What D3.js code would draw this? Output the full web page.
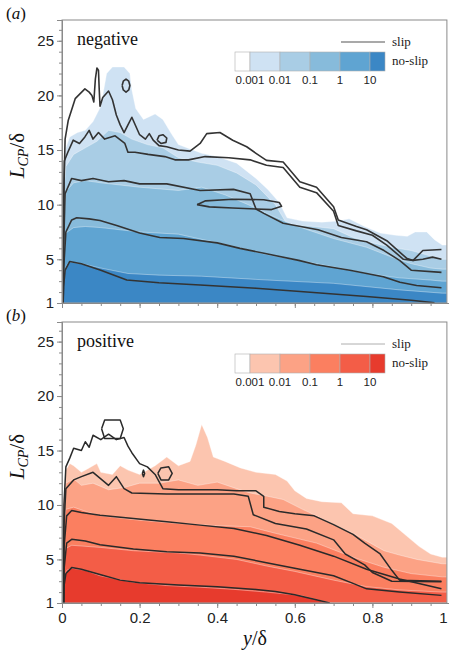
<!DOCTYPE html>
<html>
<head>
<meta charset="utf-8">
<script src="https://cdnjs.cloudflare.com/ajax/libs/d3/7.8.5/d3.min.js"></script>
<style>
  body { margin: 0; background: #fff; }
  svg text { font-family: "Liberation Sans", Arial, sans-serif; }
</style>
</head>
<body>
<svg id="chart" width="449" height="653"></svg>
<script>
// contour levels of the colour bar
var levels = ['0.001', '0.01', '0.1', '1', '10'];
var blues = ['#ffffff', '#cfe2f3', '#a9cde5', '#87bbdb', '#5fa4d2', '#3b87c5'];
var reds = ['#ffffff', '#fcc5af', '#fca285', '#fb7f60', '#f35d47', '#e73b2d'];
var x_ticks = [0, 0.2, 0.4, 0.6, 0.8, 1];
var y_ticks = [1, 5, 10, 15, 20, 25];

// negative, no-slip: upper edge [y/δ, L] of each filled level
var neg_fill_0001 = [[0,3],[0.004,13],[0.01,15.2],[0.02,16.2],[0.04,16.6],[0.06,16.8],[0.08,17.6],[0.1,19.0],[0.115,22.0],[0.13,22.6],[0.16,22.6],[0.175,22.0],[0.18,20.5],[0.19,18.8],[0.21,17.8],[0.24,18.3],[0.26,17.8],[0.28,16.6],[0.3,15.5],[0.33,15.1],[0.36,14.7],[0.4,14.4],[0.45,13.8],[0.5,12.4],[0.53,11.4],[0.56,10.2],[0.58,8.8],[0.62,8.5],[0.67,8.4],[0.71,8.5],[0.74,8.7],[0.78,8.0],[0.82,7.4],[0.86,7.2],[0.89,7.1],[0.91,7.5],[0.94,7.5],[0.96,6.8],[0.98,6.3]];
var neg_fill_001 = [[0,3],[0.004,11],[0.01,13.5],[0.03,14.6],[0.06,15.2],[0.09,15.8],[0.12,16.8],[0.15,16.6],[0.18,16.0],[0.22,15.5],[0.26,15.2],[0.3,14.3],[0.35,13.9],[0.4,13.6],[0.45,12.9],[0.5,11.8],[0.55,10.0],[0.58,8.2],[0.65,8.0],[0.7,7.8],[0.75,7.0],[0.8,6.5],[0.85,6.1],[0.9,5.8],[0.95,5.3],[0.98,5.0]];
var neg_fill_01 = [[0,3],[0.004,8],[0.01,11.2],[0.03,12.0],[0.06,12.2],[0.1,12.0],[0.15,11.8],[0.2,11.6],[0.3,11.3],[0.36,11.6],[0.42,10.9],[0.48,10.0],[0.54,9.0],[0.6,8.1],[0.65,7.5],[0.7,6.9],[0.785,6.1],[0.85,5.2],[0.9,4.6],[0.95,4.2],[0.98,4.1]];
var neg_fill_1 = [[0,2.5],[0.004,5.5],[0.01,7.4],[0.03,7.9],[0.06,8.0],[0.1,7.9],[0.15,7.7],[0.2,7.5],[0.3,7.3],[0.44,6.2],[0.52,5.5],[0.61,4.9],[0.7,4.3],[0.785,3.7],[0.87,3.3],[0.95,3.1],[0.98,3.0]];
var neg_fill_10 = [[0,1.8],[0.005,3.5],[0.012,4.5],[0.021,4.75],[0.05,4.6],[0.1,4.2],[0.17,3.7],[0.25,3.55],[0.36,3.45],[0.53,3.1],[0.7,2.8],[0.87,2.2],[0.98,1.9]];

// negative, slip: contour lines
var neg_slip_0001 = [[0.003,1],[0.004,10],[0.008,16],[0.016,17.7],[0.034,19.7],[0.059,20.6],[0.07,20.3],[0.077,20.0],[0.082,19.4],[0.086,21.5],[0.09,22.5],[0.094,22.3],[0.096,20.5],[0.098,19.0],[0.105,19.8],[0.12,20.4],[0.13,19.6],[0.14,18.2],[0.15,17.3],[0.16,16.6],[0.17,17.3],[0.18,18.0],[0.19,17.2],[0.2,16.4],[0.215,16.0],[0.225,16.5],[0.235,15.9],[0.25,15.4],[0.27,15.3],[0.3,15.0],[0.33,14.9],[0.356,15.6],[0.373,16.5],[0.407,16.6],[0.44,15.9],[0.476,15.3],[0.5,14.7],[0.527,14.05],[0.57,13.9],[0.613,12.1],[0.656,11.6],[0.7,9.8],[0.712,8.6],[0.759,8.0],[0.785,7.7],[0.837,6.7],[0.888,5.1],[0.905,4.9],[0.93,5.8],[0.978,5.9]];
var neg_slip_001 = [[0.003,1],[0.004,8],[0.006,14],[0.015,14.8],[0.029,15.9],[0.045,15.6],[0.059,16.2],[0.07,16.8],[0.08,16.0],[0.094,16.6],[0.11,16.0],[0.137,16.3],[0.162,15.6],[0.17,14.8],[0.188,14.8],[0.222,14.6],[0.265,14.4],[0.291,14.1],[0.326,14.1],[0.369,14.4],[0.43,14.3],[0.485,14.1],[0.527,13.6],[0.57,13.4],[0.613,11.6],[0.656,11.1],[0.7,9.4],[0.712,8.1],[0.759,7.6],[0.8,7.2],[0.837,6.3],[0.88,5.0],[0.905,4.9],[0.93,5.0],[0.955,5.2],[0.978,5.0]];
var neg_slip_01 = [[0.003,1],[0.004,6],[0.008,11],[0.025,12.4],[0.05,12.2],[0.08,12.4],[0.12,12.1],[0.16,12.2],[0.2,11.9],[0.27,11.9],[0.356,11.3],[0.442,11.4],[0.485,11.0],[0.5,9.6],[0.52,9.2],[0.57,8.3],[0.66,7.7],[0.72,7.0],[0.785,6.6],[0.83,5.8],[0.87,4.9],[0.9,4.0],[0.978,3.8]];
var neg_slip_1 = [[0.003,1],[0.004,4],[0.01,7.5],[0.025,8.6],[0.038,8.8],[0.07,8.7],[0.098,8.55],[0.141,8.1],[0.2,7.4],[0.252,7.0],[0.313,6.9],[0.4,6.5],[0.459,6.0],[0.527,5.5],[0.61,4.9],[0.656,4.5],[0.742,4.0],[0.828,3.4],[0.871,2.9],[0.914,2.6],[0.978,2.4]];
var neg_slip_10 = [[0.003,1],[0.004,2.5],[0.008,4.0],[0.02,4.8],[0.05,4.6],[0.1,4.0],[0.167,3.1],[0.25,2.85],[0.356,2.65],[0.5,2.35],[0.614,2.05],[0.785,1.6],[0.9,1.25],[0.96,1.02]];
var neg_slip_loops = [
    [[0.155,20.9],[0.158,21.3],[0.165,21.5],[0.172,21.3],[0.175,20.9],[0.172,20.5],[0.165,20.3],[0.158,20.5],[0.155,20.9]],
    [[0.245,15.9],[0.25,16.3],[0.26,16.4],[0.27,16.1],[0.268,15.7],[0.255,15.6],[0.245,15.9]],
    [[0.348,10.0],[0.37,10.35],[0.44,10.5],[0.52,10.45],[0.56,10.2],[0.566,9.85],[0.54,9.55],[0.5,9.6],[0.44,9.7],[0.38,9.8],[0.348,10.0]]
];

// positive, no-slip
var pos_fill_0001 = [[0,3],[0.003,10],[0.01,13.2],[0.02,13.8],[0.03,13.6],[0.05,13.0],[0.07,13.4],[0.09,13.8],[0.1,13.0],[0.13,12.8],[0.15,13.6],[0.17,13.2],[0.2,12.8],[0.24,13.6],[0.27,14.4],[0.3,13.6],[0.33,14.0],[0.345,15.5],[0.36,17.4],[0.375,16.2],[0.39,14.4],[0.42,14.0],[0.46,13.4],[0.5,13.0],[0.55,12.8],[0.58,12.2],[0.6,11.3],[0.63,10.6],[0.67,10.3],[0.72,10.2],[0.75,9.2],[0.8,9.0],[0.85,8.3],[0.88,7.4],[0.92,6.2],[0.95,5.5],[0.98,5.2]];
var pos_fill_001 = [[0,3],[0.004,9],[0.01,12.0],[0.03,12.4],[0.05,11.8],[0.08,12.0],[0.12,11.4],[0.16,11.6],[0.2,12.0],[0.25,12.0],[0.3,12.3],[0.35,11.8],[0.4,12.1],[0.45,11.5],[0.485,11.1],[0.53,10.8],[0.57,10.5],[0.62,9.6],[0.656,9.0],[0.7,8.2],[0.75,7.4],[0.785,6.7],[0.83,5.8],[0.87,5.4],[0.915,5.0],[0.98,4.6]];
var pos_fill_01 = [[0,3],[0.004,8],[0.01,9.6],[0.03,9.8],[0.07,9.3],[0.1,9.0],[0.2,8.6],[0.3,8.3],[0.4,8.1],[0.485,8.0],[0.55,7.4],[0.656,6.5],[0.75,5.2],[0.828,4.3],[0.9,3.7],[0.98,3.4]];
var pos_fill_1 = [[0,2.5],[0.004,5],[0.01,6.0],[0.025,6.3],[0.1,6.1],[0.184,5.8],[0.3,5.6],[0.356,5.4],[0.45,5.0],[0.527,4.4],[0.6,3.9],[0.7,3.1],[0.785,2.5],[0.87,2.2],[0.98,2.0]];
var pos_fill_10 = [[0,1.8],[0.005,3.3],[0.012,4.0],[0.025,4.2],[0.06,4.0],[0.098,3.5],[0.184,2.9],[0.27,2.6],[0.356,2.45],[0.443,2.25],[0.527,2.0],[0.613,1.7],[0.68,1.1],[0.7,1.0],[0.98,1.0]];

// positive, slip
var pos_slip_0001 = [[0.004,1],[0.005,10],[0.01,13.5],[0.02,14.3],[0.03,15.2],[0.05,15.0],[0.06,15.8],[0.07,15.3],[0.08,16.4],[0.1,16.0],[0.12,16.5],[0.14,16.0],[0.16,16.2],[0.17,15.4],[0.18,14.8],[0.2,13.8],[0.22,13.5],[0.24,12.8],[0.26,11.5],[0.3,11.4],[0.36,11.4],[0.4,11.4],[0.45,11.3],[0.5,11.3],[0.52,10.8],[0.52,9.8],[0.56,9.4],[0.6,9.2],[0.65,9.0],[0.7,8.2],[0.75,7.3],[0.78,6.5],[0.82,5.5],[0.85,4.0],[0.87,3.1],[0.978,3.0]];
var pos_slip_001 = [[0.004,1],[0.005,8],[0.01,11.5],[0.03,12.3],[0.05,12.6],[0.08,13.0],[0.1,12.4],[0.12,11.8],[0.14,12.6],[0.16,11.5],[0.18,11.1],[0.27,11.0],[0.356,11.0],[0.443,11.0],[0.48,10.8],[0.493,9.1],[0.55,8.3],[0.63,7.8],[0.7,6.8],[0.73,5.5],[0.78,4.5],[0.8,3.8],[0.85,3.0],[0.978,2.95]];
var pos_slip_01 = [[0.004,1],[0.005,6],[0.012,9.0],[0.025,9.5],[0.05,9.3],[0.098,9.05],[0.184,8.75],[0.27,8.45],[0.356,8.15],[0.443,7.85],[0.527,7.2],[0.613,6.3],[0.7,5.3],[0.785,4.1],[0.87,3.2],[0.978,2.3]];
var pos_slip_1 = [[0.004,1],[0.005,4],[0.012,6.5],[0.025,6.85],[0.06,6.7],[0.098,6.35],[0.184,5.95],[0.27,5.7],[0.356,5.6],[0.443,5.3],[0.527,4.7],[0.613,4.1],[0.7,3.5],[0.75,2.8],[0.785,2.3],[0.87,2.0],[0.978,1.7]];
var pos_slip_10 = [[0.004,1],[0.005,2.5],[0.01,3.7],[0.025,4.25],[0.05,4.1],[0.1,3.6],[0.15,3.1],[0.2,2.85],[0.3,2.65],[0.4,2.5],[0.5,2.25],[0.55,2.05],[0.6,1.75],[0.65,1.35],[0.69,1.0]];
var pos_slip_loops = [
    [[0.102,17.0],[0.11,17.8],[0.15,17.8],[0.158,17.0],[0.15,16.1],[0.11,16.1],[0.102,17.0]],
    [[0.247,12.9],[0.255,13.4],[0.275,13.5],[0.284,12.9],[0.275,12.3],[0.255,12.3],[0.247,12.9]],
    [[0.207,12.9],[0.21,13.2],[0.213,12.9],[0.21,12.6],[0.207,12.9]]
];

var svg = d3.select('#chart');
var x_end = 0.992;   // right frame edge

var panels = [
    {name: 'negative', tag: 'a', top: 20, bottom: 303, ymax: 26.9, colors: blues,
     fills: [neg_fill_0001, neg_fill_001, neg_fill_01, neg_fill_1, neg_fill_10],
     slips: [neg_slip_0001, neg_slip_001, neg_slip_01, neg_slip_1, neg_slip_10],
     loops: neg_slip_loops, slip_w: 1.6, slip_c: '#333', legend_c: '#555', legend_w: 1.2},
    {name: 'positive', tag: 'b', top: 322, bottom: 603, ymax: 26.8, colors: reds,
     fills: [pos_fill_0001, pos_fill_001, pos_fill_01, pos_fill_1, pos_fill_10],
     slips: [pos_slip_0001, pos_slip_001, pos_slip_01, pos_slip_1, pos_slip_10],
     loops: pos_slip_loops, slip_w: 1.5, slip_c: '#2a2a2a', legend_c: '#999', legend_w: 0.8}
];

var x = d3.scaleLinear().domain([0, 1]).range([62, 450]);

panels.forEach(function(p, pi) {
    var y = d3.scaleLinear().domain([1, p.ymax]).range([p.bottom, p.top]);
    var g = svg.append('g');

    g.append('clipPath')
        .attr('id', 'clip' + pi)
        .append('rect')
        .attr('x', x(0))
        .attr('y', p.top)
        .attr('width', x(x_end) - x(0))
        .attr('height', p.bottom - p.top);

    var plot = g.append('g').attr('clip-path', 'url(#clip' + pi + ')');

    // filled levels, closed down to L = 1
    var area = d3.area()
        .x(function(d) { return x(d[0]); })
        .y0(y(1))
        .y1(function(d) { return y(d[1]); });

    plot.selectAll('.band')
        .data(p.fills)
        .enter()
        .append('path')
        .attr('class', 'band')
        .attr('d', function(d) {
            var pts = d.slice();
            var last = pts[pts.length - 1];
            if (last[0] < x_end) pts.push([x_end, last[1]]);
            return area(pts);
        })
        .attr('fill', function(d, i) { return p.colors[i + 1]; })
        .attr('stroke', '#ffffff')
        .attr('stroke-opacity', 0.45)
        .attr('stroke-width', 0.8);

    // slip contour lines
    var line = d3.line()
        .x(function(d) { return x(d[0]); })
        .y(function(d) { return y(d[1]); });

    plot.selectAll('.slip')
        .data(p.slips.concat(p.loops))
        .enter()
        .append('path')
        .attr('class', 'slip')
        .attr('d', line)
        .attr('fill', 'none')
        .attr('stroke', p.slip_c)
        .attr('stroke-width', p.slip_w)
        .attr('stroke-linejoin', 'round');

    // frame
    g.append('rect')
        .attr('x', x(0))
        .attr('y', p.top)
        .attr('width', x(x_end) - x(0))
        .attr('height', p.bottom - p.top)
        .attr('fill', 'none')
        .attr('stroke', '#8a8a8a')
        .attr('stroke-width', 1);

    // y axis, major + minor ticks
    g.append('g')
        .attr('transform', 'translate(' + x(0) + ',0)')
        .call(d3.axisLeft(y).tickValues(y_ticks).tickSize(5).tickPadding(3));
    g.append('g')
        .attr('transform', 'translate(' + x(0) + ',0)')
        .call(d3.axisLeft(y).tickValues(d3.range(1, 27)).tickSize(3).tickFormat(''));

    // x axis
    var x_axis = g.append('g')
        .attr('transform', 'translate(0,' + p.bottom + ')')
        .call(d3.axisBottom(x).tickValues(x_ticks).tickSize(5).tickPadding(4)
            .tickFormat(pi == 1 ? d3.format('') : ''));
    g.append('g')
        .attr('transform', 'translate(0,' + p.bottom + ')')
        .call(d3.axisBottom(x).tickValues(d3.range(0, 1.001, 0.05)).tickSize(3).tickFormat(''));

    g.selectAll('.domain').attr('stroke', '#8a8a8a');
    g.selectAll('.tick line').attr('stroke', '#8a8a8a');
    g.selectAll('.tick text')
        .attr('fill', '#222')
        .style('font-size', '15px');
    // last x label sits on the window edge
    x_axis.selectAll('.tick text')
        .filter(function(d) { return d == 1; })
        .attr('text-anchor', 'end')
        .attr('dx', -3);

    // panel tag (a) / (b)
    var tag = g.append('text')
        .attr('x', 6)
        .attr('y', p.top - 1)
        .style('font-family', '"Liberation Serif", serif')
        .style('font-size', '17px')
        .attr('fill', '#111');
    tag.append('tspan').text('(');
    tag.append('tspan').style('font-style', 'italic').text(p.tag);
    tag.append('tspan').text(')');

    // y label
    var ylab = g.append('text')
        .attr('transform', 'translate(24,' + ((p.top + p.bottom) / 2 - 6) + ') rotate(-90)')
        .attr('text-anchor', 'middle')
        .style('font-family', '"Liberation Serif", serif')
        .style('font-size', '21px')
        .attr('fill', '#111');
    ylab.append('tspan').style('font-style', 'italic').text('L');
    ylab.append('tspan').style('font-style', 'italic').style('font-size', '14px').attr('dy', 4).text('CP');
    ylab.append('tspan').attr('dy', -4).text('/δ');

    // sign name
    g.append('text')
        .attr('x', 77)
        .attr('y', p.top + 25)
        .style('font-family', '"Liberation Serif", serif')
        .style('font-size', '18px')
        .attr('fill', '#111')
        .text(p.name);

    // legend: slip line
    g.append('line')
        .attr('x1', 341).attr('x2', 385)
        .attr('y1', p.top + 22).attr('y2', p.top + 22)
        .attr('stroke', p.legend_c)
        .attr('stroke-width', p.legend_w);
    g.append('text')
        .attr('x', 392).attr('y', p.top + 26)
        .style('font-family', '"Liberation Serif", serif')
        .style('font-size', '13px')
        .attr('fill', '#222')
        .text('slip');
    g.append('text')
        .attr('x', 392).attr('y', p.top + 45)
        .style('font-family', '"Liberation Serif", serif')
        .style('font-size', '13px')
        .attr('fill', '#222')
        .text('no-slip');

    // legend: colour bar, labels on the cell edges
    var cb = d3.scaleLinear().domain([0, 4]).range([250, 370]);
    var cb_y = p.top + 32, cb_h = 19;
    var cells = p.colors.map(function(c, i) {
        var x0 = i == 0 ? 235 : cb(i - 1);
        var x1 = i == 5 ? 385 : cb(i);
        return {c: c, x0: x0, x1: x1};
    });
    g.selectAll('.cell')
        .data(cells)
        .enter()
        .append('rect')
        .attr('class', 'cell')
        .attr('x', function(d) { return d.x0; })
        .attr('y', cb_y)
        .attr('width', function(d) { return d.x1 - d.x0; })
        .attr('height', cb_h)
        .attr('fill', function(d) { return d.c; })
        .attr('stroke', '#b0b0b0')
        .attr('stroke-width', 0.6);
    g.selectAll('.cblab')
        .data(levels)
        .enter()
        .append('text')
        .attr('class', 'cblab')
        .attr('x', function(d, i) { return cb(i); })
        .attr('y', cb_y + 32)
        .attr('text-anchor', 'middle')
        .style('font-size', '11.5px')
        .attr('fill', '#222')
        .text(function(d) { return d; });
});

// x axis title
var xt = svg.append('text')
    .attr('x', 255)
    .attr('y', 645)
    .attr('text-anchor', 'middle')
    .style('font-family', '"Liberation Serif", serif')
    .style('font-size', '20px')
    .attr('fill', '#111');
xt.append('tspan').style('font-style', 'italic').text('y');
xt.append('tspan').text('/δ');
</script>
</body>
</html>
